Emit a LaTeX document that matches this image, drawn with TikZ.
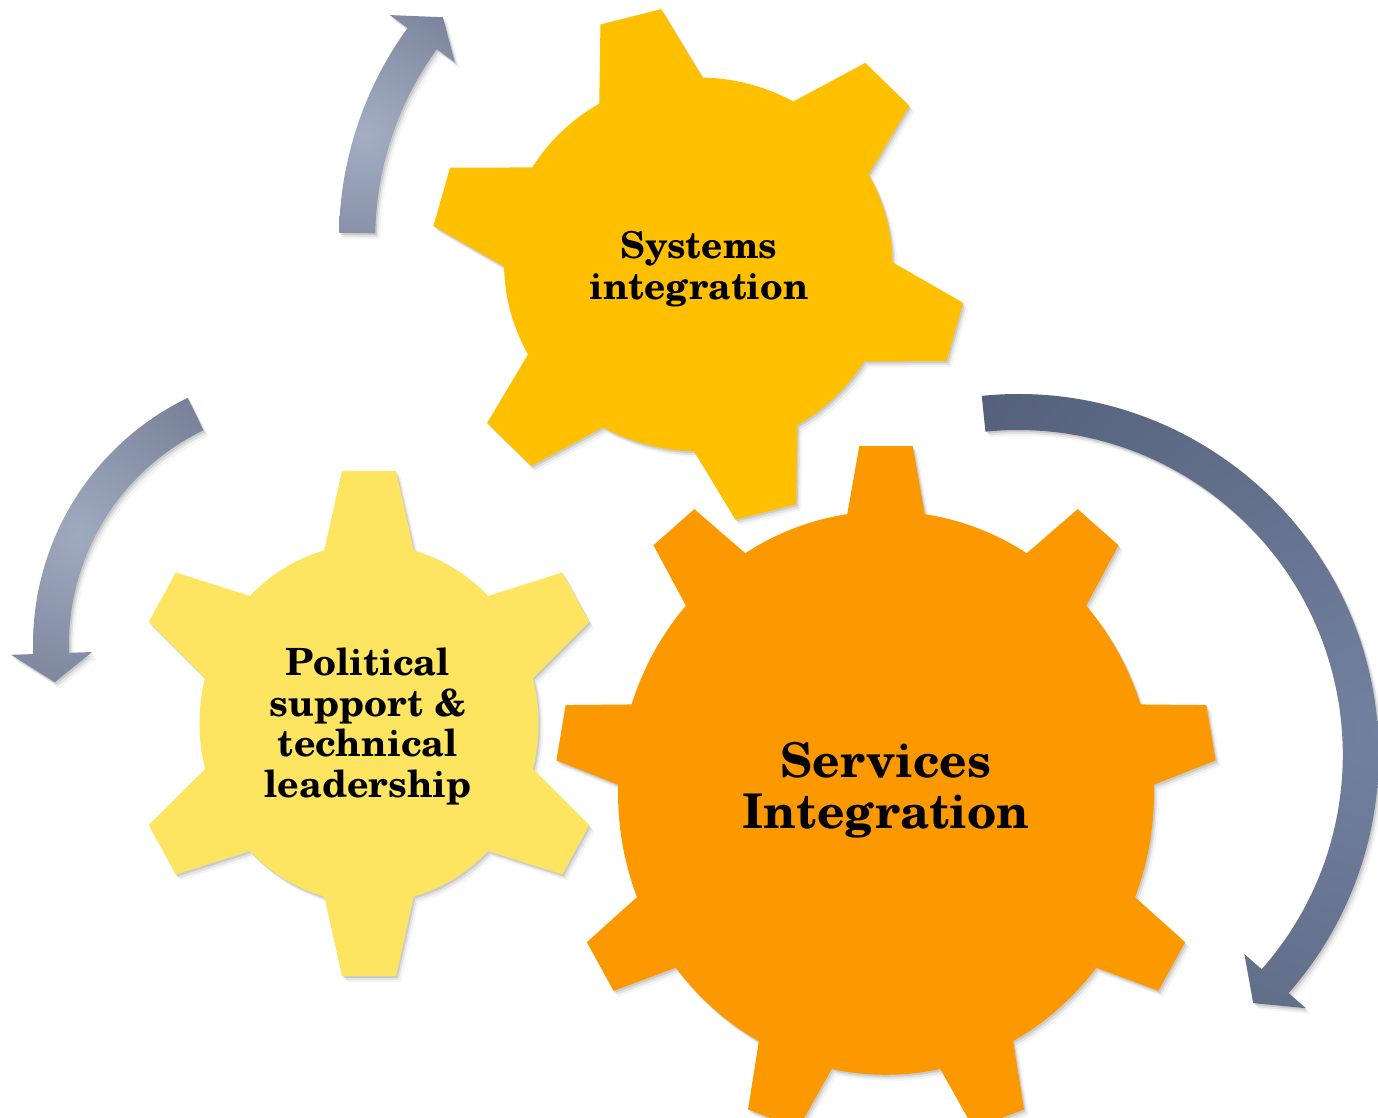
\documentclass[tikz,border=0pt]{standalone}
\usepackage{fontspec}
\setmainfont{TeX Gyre Schola}
\definecolor{sysgold}{RGB}{254,192,0}
\definecolor{polyellow}{RGB}{253,229,98}
\definecolor{servorange}{RGB}{253,153,0}
\definecolor{arrAin}{RGB}{164,174,195}
\definecolor{arrAout}{RGB}{98,107,132}
\definecolor{arrBin}{RGB}{160,170,191}
\definecolor{arrBout}{RGB}{90,99,124}
\definecolor{arrCin}{RGB}{114,129,159}
\definecolor{arrCout}{RGB}{59,69,92}
% gear outlines in unit coordinates (tip radius 1)
\newcommand{\gearsixpath}[3]{(#1,0) arc[start angle=0,end angle=360,radius=#1]
  \foreach \a in {90,150,...,420}{([rotate=\a]0.55,-#2) -- ([rotate=\a]1,-#3) -- ([rotate=\a]1,#3) -- ([rotate=\a]0.55,#2) -- cycle}}
\newcommand{\gearninepath}[3]{(#1,0) arc[start angle=0,end angle=360,radius=#1]
  \foreach \a in {90,130,...,410}{([rotate=\a]0.72,-#2) -- ([rotate=\a]1,-#3) -- ([rotate=\a]1,#3) -- ([rotate=\a]0.72,#2) -- cycle}}
% circular arrow: tail angle, back angle, tip angle, Rout, Rin, head out, head in, tip radius
\newcommand{\arcarrowpath}[8]{(#1:#4) arc[start angle=#1,end angle=#2,radius=#4] -- (#2:#6) -- (#3:#8) -- (#2:#7) -- (#2:#5) arc[start angle=#2,end angle=#1,radius=#5] -- cycle}
\tikzset{
  gtext/.style={anchor=base, align=center, inner sep=0pt, text=black},
}
\begin{document}
\begin{tikzpicture}[x=1pt,y=-1pt]
\useasboundingbox (0,0) rectangle (1378,1117);
\fill[white] (0,0) rectangle (1378,1117);
\clip (0,0) rectangle (1378,1117);

% ---------- Political gear ----------
\foreach \dx/\dy/\op in {1.5/2/0.10,3/4/0.07,5/6/0.04}{
  \begin{scope}[shift={(369+\dx,723.5+\dy)}, xscale=238.7, yscale=252.6]
    \fill[black,opacity=\op] \gearsixpath{0.71}{0.2195}{0.113};
  \end{scope}}
\begin{scope}[shift={(369,723.5)}, xscale=238.7, yscale=252.6]
  \fill[polyellow] \gearsixpath{0.71}{0.2195}{0.113};
\end{scope}

% ---------- Systems gear ----------
\foreach \dx/\dy/\op in {1.5/2/0.10,3/4/0.07,5/6/0.04}{
  \begin{scope}[shift={(698.3+\dx,264.4+\dy)}, xscale=266, yscale=256, rotate=14.7]
    \fill[black,opacity=\op] \gearsixpath{0.73}{0.243}{0.118};
  \end{scope}}
\begin{scope}[shift={(698.3,264.4)}, xscale=266, yscale=256, rotate=14.7]
  \fill[sysgold] \gearsixpath{0.73}{0.243}{0.118};
\end{scope}

% ---------- Services gear ----------
\foreach \dx/\dy/\op in {1.5/2/0.10,3/4/0.07,5/6/0.04}{
  \begin{scope}[shift={(886+\dx,793+\dy)}, xscale=330, yscale=347]
    \fill[black,opacity=\op] \gearninepath{0.812}{0.133}{0.081};
  \end{scope}}
\begin{scope}[shift={(886,793)}, xscale=330, yscale=347]
  \fill[servorange] \gearninepath{0.812}{0.133}{0.081};
\end{scope}

% ---------- Arrow A (top left, around Systems) ----------
\foreach \dx/\dy/\op in {1.5/2/0.10,3/4/0.07,5/6/0.04}{
  \begin{scope}[shift={(698+\dx,239+\dy)}, yscale=-1]
    \fill[black,opacity=\op] \arcarrowpath{179}{144}{139}{359}{322.8}{381}{300.5}{338};
  \end{scope}}
\begin{scope}[shift={(698,239)}, yscale=-1]
  \clip \arcarrowpath{179}{144}{139}{359}{322.8}{381}{300.5}{338};
  \shade[inner color=arrAin, outer color=arrAout] (-333,104) circle[radius=230];
\end{scope}

% ---------- Arrow B (left) ----------
\foreach \dx/\dy/\op in {1.5/2/0.10,3/4/0.07,5/6/0.04}{
  \begin{scope}[shift={(307+\dx,644.5+\dy)}, yscale=-1]
    \fill[black,opacity=\op] \arcarrowpath{115.8}{182}{188.5}{274}{238}{296}{215}{255};
  \end{scope}}
\begin{scope}[shift={(307,644.5)}, yscale=-1]
  \clip \arcarrowpath{115.8}{182}{188.5}{274}{238}{296}{215}{255};
  \shade[inner color=arrBin, outer color=arrBout] (-229,109.5) circle[radius=300];
\end{scope}

% ---------- Arrow C (right, large) ----------
\foreach \dx/\dy/\op in {1.5/2/0.10,3/4/0.07,5/6/0.04}{
  \begin{scope}[shift={(1018.2+\dx,754.6+\dy)}, yscale=-1]
    \fill[black,opacity=\op] \arcarrowpath{95.8}{-41.4}{-46.6}{360.6}{324.6}{383.5}{301.5}{342};
  \end{scope}}
\begin{scope}[shift={(1018.2,754.6)}, yscale=-1]
  \clip \arcarrowpath{95.8}{-41.4}{-46.6}{360.6}{324.6}{383.5}{301.5}{342};
  \shade[inner color=arrCin, outer color=arrCout] (359.8,24.6) circle[radius=960];
\end{scope}

% ---------- Texts (anchor = baseline of last line) ----------
\node[gtext, font=\bfseries\fontsize{37}{41}\selectfont] (sysT) at (699,299) {Systems\\integration};
\node[gtext, font=\bfseries\fontsize{37.5}{40.4}\selectfont] (polT) at (368,797) {Political\\support \&\\technical\\leadership};
\node[gtext, font=\bfseries\fontsize{47.8}{51}\selectfont] (servT) at (886,828) {Services\\Integration};
\end{tikzpicture}
\end{document}
